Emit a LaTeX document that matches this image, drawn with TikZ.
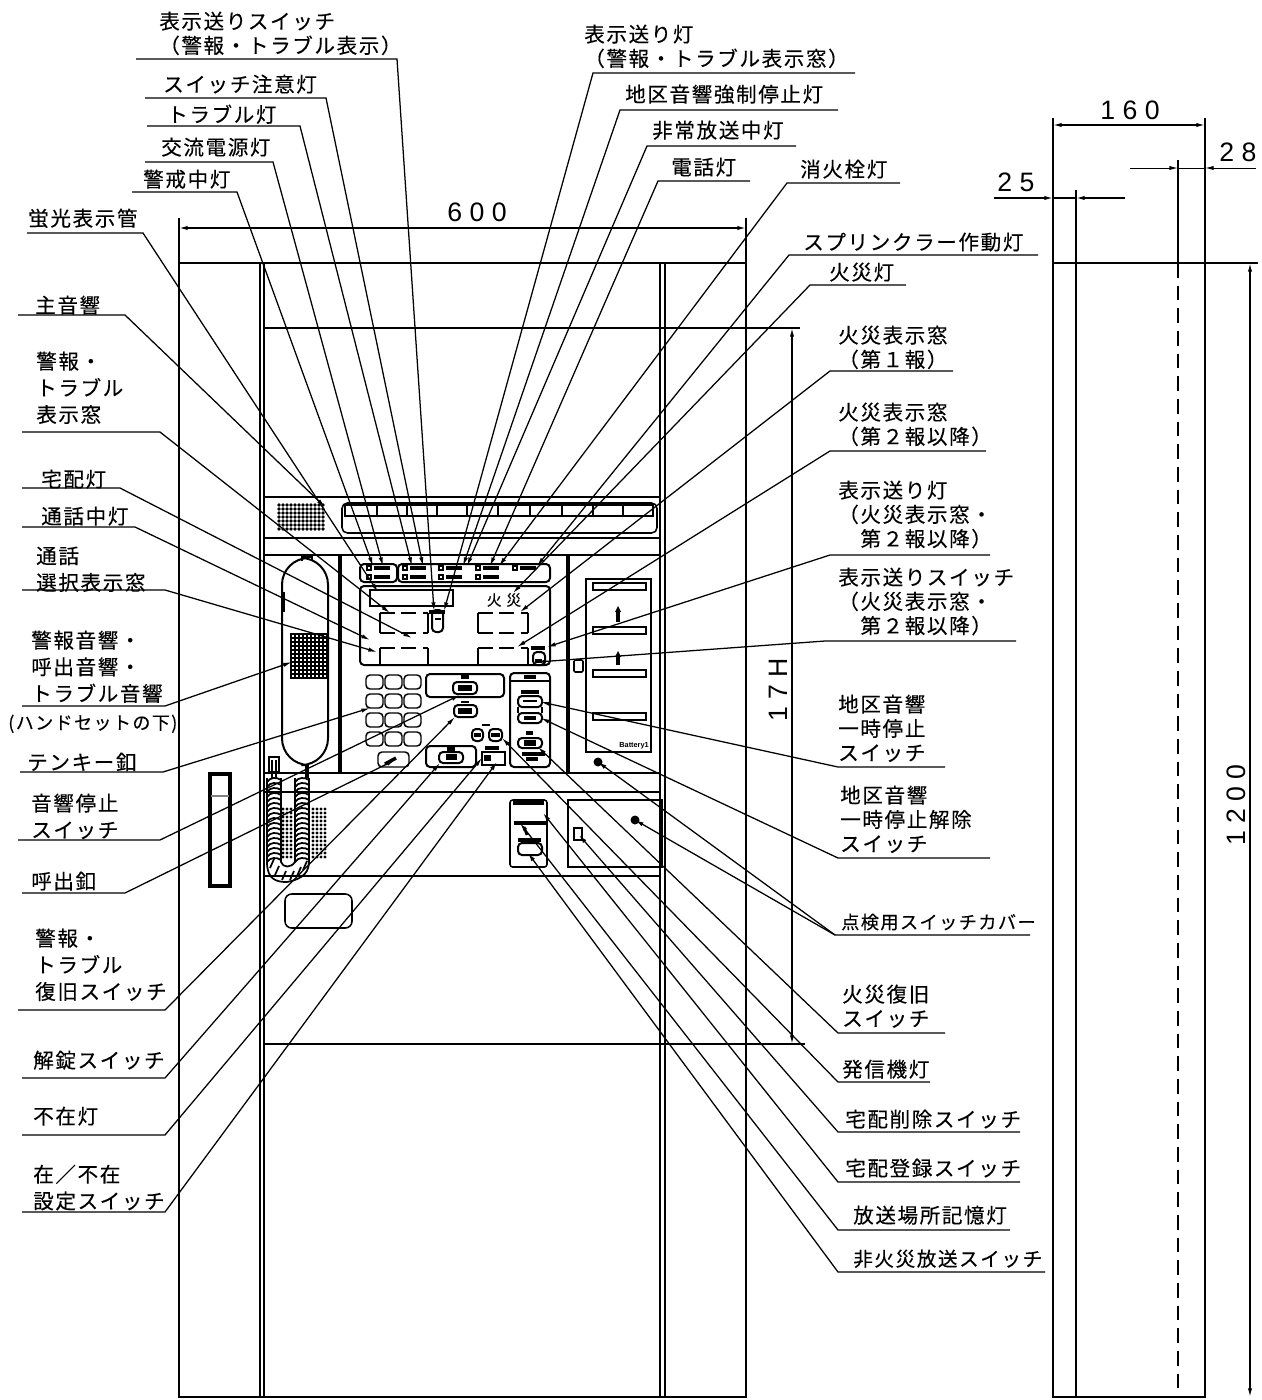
\documentclass[tikz,border=0pt]{standalone}
\usepackage{fontspec}
\usepackage{amsmath}
\setmainfont{Noto Sans CJK JP}
\newfontfamily\jpfont[LetterSpace=8,FakeBold=0.25]{Noto Sans CJK JP}
\newfontfamily\numfont[LetterSpace=28]{Liberation Sans}
\newfontfamily\tinyfont{Liberation Sans}
\usetikzlibrary{arrows.meta}
\tikzset{
  lbl/.style={anchor=north west,inner sep=0pt,align=left,yshift=-1.8pt,font=\jpfont\fontsize{15.4}{18.2}\selectfont},
  lbltall/.style={lbl,font=\jpfont\fontsize{15.4}{20}\selectfont},
  ldr/.style={line width=0.95pt,-{Latex[length=6.5pt,width=3.2pt]}},
  uline/.style={line width=1.1pt},
  cab/.style={line width=1.15pt},
  thinl/.style={line width=0.9pt},
  heavy/.style={line width=2.4pt},
  blob/.style={line width=2.6pt},
  dimn/.style={line width=1pt,{Latex[length=6.5pt,width=3.2pt]}-{Latex[length=6.5pt,width=3.2pt]}},
  dimo/.style={line width=1pt,-{Latex[length=6.5pt,width=3.2pt]}},
  num/.style={inner sep=0pt,font=\numfont\fontsize{20}{24}\selectfont},
  key/.style={line width=1.1pt,rounded corners=3},
  btn/.style={line width=1.5pt,rounded corners=3}
}
\begin{document}
\begin{tikzpicture}[x=0.75pt,y=0.75pt,yscale=-1,xscale=1]
  \useasboundingbox (0,0) rectangle (1261,1400);

  %Shape: Cabinet outline
  \draw [cab] (179,1397) -- (179,263) -- (746,263) -- (746,1397) -- cycle ;
  \draw [cab] (260,263) -- (260,1397) (264,263) -- (264,1397) ;
  \draw [cab] (660,263) -- (660,1397) (665,263) -- (665,1397) ;
  \draw [thinl] (264,497) -- (660,497) (264,538) -- (660,538) ;
  \draw [cab] (264,555) -- (660,555) ;
  \draw [cab] (264,773) -- (660,773) ;
  \draw [thinl] (264,792) -- (660,792) ;
  \draw [thinl] (264,876) -- (660,876) ;
  \draw [heavy] (340,555) -- (340,773) (568,555) -- (568,773) ;

  %Shape: Speaker
  \foreach \x in {279,283,...,325} \foreach \y in {505,509,...,531}
    \fill (\x,\y) circle [radius=1.8];
  %Shape: Display strip
  \draw [cab,rounded corners=4] (342,503) rectangle (657,533) ;
  \draw [line width=1.6pt] (345,505) rectangle (653,516) ;
  \foreach \x in {377,407,437,467,498,530,562,593,623}
    \draw [line width=1.6pt] (\x,505) -- (\x,516) ;

  %Shape: Handset
  \draw [line width=1.5pt,rounded corners=20] (282,558) rectangle (328,765) ;
  \draw [thinl] (302,561) -- (302,557) -- (312,557) -- (312,561) ;
  \draw [thinl] (284,592) -- (284,612) ;
  \foreach \y in {634,638,...,678} \draw [line width=1.3pt] (291,\y) -- (327,\y) ;
  \foreach \x in {291,295,...,327} \draw [line width=1.3pt] (\x,633) -- (\x,679) ;
  \draw [cab] (306,765) -- (306,778) (308,765) -- (308,778) ;
  \draw [line width=1.6pt] (269,757) rectangle (279,772) ;
  \draw [thinl] (272,760) -- (272,778) (276,760) -- (276,778) ;
  %Shape: Handset cord
  \foreach \y in {780,785,...,860} {
    \draw [line width=1.3pt] (267,\y+2) .. controls (270,\y-3) and (277,\y-3) .. (281,\y) ;
    \draw [line width=1.3pt] (295,\y+2) .. controls (298,\y-3) and (305,\y-3) .. (309,\y) ;
  }
  \draw [line width=1.3pt] (267,778) -- (267,862) .. controls (267,880) and (277,882) .. (287,882) .. controls (297,880) and (309,876) .. (309,862) -- (309,778) ;
  \draw [line width=1.3pt] (281,778) -- (281,862) .. controls (283,868) and (291,868) .. (295,862) -- (295,778) ;
  \foreach \a/\b in {270/868,275/875,282/880,290/880,297/876,303/870}
    \draw [line width=1.3pt] (\a,\b) -- (\a+4,\b-9) ;
  %Shape: Cord grilles
  \foreach \x in {283,287,291} \foreach \y in {809,813,...,857}
    \fill (\x,\y) circle [radius=1.7];
  \foreach \x in {313,317,321,325} \foreach \y in {809,813,...,857}
    \fill (\x,\y) circle [radius=1.7];

  %Shape: Left bar
  \draw [line width=2.6pt] (210,774) rectangle (230,886) ;
  \draw [line width=1.4pt,gray] (211,796) -- (229,796) ;
  %Shape: Pocket
  \draw [cab,rounded corners=5] (285,894) rectangle (352,928) ;

  %Shape: Light rows
  \draw [btn] (360,564) rectangle (397,582) ;
  \draw [btn] (398,564) rectangle (550,582) ;
  \foreach \x/\y in {367/568,367/577,403/568,403/577,439/568,439/577,476/568,476/577,513/568} {
    \draw [thinl] (\x,\y-2) rectangle (\x+4,\y+2) ;
    \draw [line width=2.8pt] (\x+7,\y) -- (\x+23,\y) ;
  }

  %Shape: Main display
  \draw [btn] (360,586) rectangle (550,665) ;
  \draw [cab] (370,590) rectangle (453,606) ;
  \draw [cab] (380,613) -- (380,633) (428,613) -- (428,633) (478,613) -- (478,633) (528,613) -- (528,633) ;
  \draw [cab] (380,648) -- (380,665) (428,648) -- (428,665) (478,648) -- (478,665) (528,648) -- (528,665) ;
  \draw [cab,dash pattern=on 11 off 5] (380,613) -- (428,613) ;
  \draw [cab,dash pattern=on 11 off 5] (380,633) -- (428,633) ;
  \draw [cab,dash pattern=on 11 off 5] (478,613) -- (528,613) ;
  \draw [cab,dash pattern=on 11 off 5] (478,633) -- (528,633) ;
  \draw [cab,dash pattern=on 11 off 5] (380,648) -- (428,648) ;
  \draw [cab,dash pattern=on 11 off 5] (478,648) -- (528,648) ;
  \node (tFire) [inner sep=0pt,font=\jpfont\fontsize{11}{13}\selectfont] at (504,600) {火\,\,災};
  \draw [btn] (432,610) rectangle (443,632) ;
  \draw [blob] (429,612) -- (445,612) ;
  \draw [thinl] (435,619) -- (441,619) ;
  \draw [btn] (533,652) rectangle (545,665) ;
  \draw [blob] (531,648) -- (545,648) ;
  \draw [blob] (535,661) -- (542,661) ;

  %Shape: Keypad
  \foreach \y/\h in {675/14,694/14,713/14,732/14}
    \foreach \x in {366,385,404}
      \draw [key] (\x,\y) rectangle (\x+17,\y+\h) ;
  \draw [key] (378,752) rectangle (409,767) ;
  \draw [blob] (385,764) -- (396,758) ;

  %Shape: Centre buttons
  \draw [btn] (426,674) rectangle (504,697) ;
  \draw [btn] (453,682) rectangle (477,694) ;
  \draw [blob] (461,677) -- (469,677) ;
  \draw [blob,line width=4.5pt] (458,688) -- (472,688) ;
  \draw [btn] (454,705) rectangle (477,717) ;
  \draw [thinl] (461,702) -- (469,702) ;
  \draw [blob,line width=4.5pt] (458,711) -- (472,711) ;
  \draw [btn] (426,746) rectangle (476,767) ;
  \draw [btn] (439,752) rectangle (463,763) ;
  \draw [blob,line width=4.5pt] (446,757) -- (457,757) ;
  \draw [blob] (447,749) -- (455,749) ;
  \draw [btn] (472,729) rectangle (483,741) ;
  \draw [btn] (489,729) rectangle (502,741) ;
  \draw [blob] (474,735) -- (481,735) (491,735) -- (500,735) ;
  \draw [thinl] (482,725) -- (490,725) ;
  \draw [thinl] (482,752) rectangle (505,765) ;
  \draw [blob,line width=4.5pt] (484,758) -- (491,758) ;
  \draw [blob] (485,748) -- (499,748) ;

  %Shape: Right control column
  \draw [btn] (510,673) rectangle (550,767) ;
  \draw [cab] (510,681) -- (550,681) ;
  \draw [blob] (524,677) -- (536,677) ;
  \draw [blob,line width=3.5pt] (521,692) -- (539,692) ;
  \draw [btn] (518,696) rectangle (542,707) ;
  \draw [blob,line width=2pt] (523,701) -- (537,701) ;
  \draw [btn] (518,713) rectangle (542,723) ;
  \draw [cab] (518,707) -- (518,713) (542,707) -- (542,713) ;
  \draw [blob] (524,718) -- (536,718) ;
  \draw [btn] (518,738) rectangle (542,748) ;
  \draw [blob,line width=4pt] (524,743) -- (536,743) ;
  \draw [blob] (526,733) -- (533,733) ;
  \draw [blob] (522,754) -- (545,754) ;
  \draw [blob] (526,759) -- (538,759) ;

  %Shape: Battery panel
  \draw [line width=1.8pt] (586,579) rectangle (651,752) ;
  \foreach \y in {583,627,670,713}
    \draw [cab] (593,\y) rectangle (646,\y+7) ;
  \draw [line width=2.4pt] (618,610) -- (618,622) (618,655) -- (618,665) ;
  \fill (618,606) -- (615,612) -- (621,612) -- cycle ;
  \fill (618,651) -- (615,657) -- (621,657) -- cycle ;
  \node (tBattery) [inner sep=0pt,anchor=east,font=\tinyfont\bfseries\fontsize{5.5}{6}\selectfont] at (649,746) {Battery1};
  \draw [cab,rounded corners=1] (574,660) rectangle (583,672) ;
  \fill (598,762) circle [radius=4.5];

  %Shape: Lower panels
  \draw [cab] (568,800) rectangle (662,867) ;
  \draw [cab] (574,828) rectangle (582,840) ;
  \fill (635,820) circle [radius=4.5];
  \draw [cab,rounded corners=2] (510,800) rectangle (547,867) ;
  \draw [blob,line width=3.5pt] (513,803) -- (544,803) ;
  \draw [blob,line width=2.4pt] (514,823) -- (546,823) ;
  \draw [blob,line width=2pt] (524,827) -- (527,835) ;
  \draw [blob,line width=3.5pt] (518,840) -- (541,840) ;
  \draw [btn] (518,843) rectangle (542,855) ;

  %Dimensions of the front view
  \coordinate (dA) at (179,228); \coordinate (dB) at (746,228);
  \draw [thinl] (179,218) -- (179,263) (746,218) -- (746,263) ;
  \draw [dimn] (dA) -- (dB) ;
  \node (t600) [num] at (477,212) {600};
  \draw [thinl] (264,328) -- (800,328) (264,1044) -- (805,1044) ;
  \coordinate (dC) at (792,328); \coordinate (dD) at (792,1044);
  \draw [dimn] (dC) -- (dD) ;
  \node (t17H) [num,rotate=90] at (778,690) {17H};

  %Shape: Side view
  \draw [cab] (1053,118) -- (1053,1397) -- (1205,1397) -- (1205,118) ;
  \draw [thinl] (1076,190) -- (1076,1397) ;
  \draw [thinl] (1178,160) -- (1178,263) ;
  \draw [thinl,dashed,dash pattern=on 11 off 6] (1178,263) -- (1178,1397) ;
  \draw [cab] (1053,263) -- (1258,263) ;
  \coordinate (dE) at (1053,125); \coordinate (dF) at (1205,125);
  \draw [dimn] (dE) -- (dF) ;
  \node (t160) [num] at (1130,110) {160};
  \coordinate (dG) at (1130,168); \coordinate (dH) at (1178,168);
  \coordinate (dI) at (1256,168); \coordinate (dJ) at (1205,168);
  \draw [dimo,line width=0.75pt] (dG) -- (dH) ;
  \draw [dimo,line width=0.75pt] (dI) -- (dJ) ;
  \draw [line width=0.75pt] (dH) -- (dJ) ;
  \node (t28) [num] at (1238,152) {28};
  \coordinate (dK) at (994,198); \coordinate (dL) at (1053,198);
  \coordinate (dM) at (1125,198); \coordinate (dN) at (1076,198);
  \draw [dimo] (dK) -- (dL) ;
  \draw [dimo] (dM) -- (dN) ;
  \draw [line width=1pt] (dL) -- (dN) ;
  \node (t25) [num] at (1016,182) {25};
  \coordinate (dO) at (1250,263); \coordinate (dP) at (1250,1397);
  \draw [dimn] (dO) -- (dP) ;
  \node (t1200) [num,rotate=90] at (1236,805) {1200};

  % Text Node
  \node (tSwAlarm) [lbl] at (159,9) {表示送りスイッチ\\（警報・トラブル表示）};
  \coordinate (uSwAlarmA) at (136,59); \coordinate (uSwAlarmB) at (397,59); \coordinate (pSwAlarm) at (434,611);
  \draw [ldr] (uSwAlarmA) -- (uSwAlarmB) -- (pSwAlarm) ;
  % Text Node
  \node (tCaution) [lbl] at (163,72) {スイッチ注意灯};
  \coordinate (uCautionA) at (145,98); \coordinate (uCautionB) at (326,98); \coordinate (pCaution) at (423,566);
  \draw [ldr] (uCautionA) -- (uCautionB) -- (pCaution) ;
  % Text Node
  \node (tTrouble) [lbl] at (167,102) {トラブル灯};
  \coordinate (uTroubleA) at (147,126); \coordinate (uTroubleB) at (300,126); \coordinate (pTrouble) at (412,566);
  \draw [ldr] (uTroubleA) -- (uTroubleB) -- (pTrouble) ;
  % Text Node
  \node (tPower) [lbl] at (161,135) {交流電源灯};
  \coordinate (uPowerA) at (145,162); \coordinate (uPowerB) at (273,162); \coordinate (pPower) at (383,566);
  \draw [ldr] (uPowerA) -- (uPowerB) -- (pPower) ;
  % Text Node
  \node (tGuard) [lbl] at (143,167) {警戒中灯};
  \coordinate (uGuardA) at (132,192); \coordinate (uGuardB) at (237,192); \coordinate (pGuard) at (373,566);
  \draw [ldr] (uGuardA) -- (uGuardB) -- (pGuard) ;
  % Text Node
  \node (tTube) [lbl] at (28,206) {蛍光表示管};
  \coordinate (uTubeA) at (27,233); \coordinate (uTubeB) at (143,233); \coordinate (pTube) at (378,592);
  \draw [ldr] (uTubeA) -- (uTubeB) -- (pTube) ;
  % Text Node
  \node (tHorn) [lbl] at (35,293) {主音響};
  \coordinate (uHornA) at (18,315); \coordinate (uHornB) at (125,315); \coordinate (pHorn) at (325,507);
  \draw [ldr] (uHornA) -- (uHornB) -- (pHorn) ;
  % Text Node
  \node (tAlarmWin) [lbltall] at (36,349) {警報・\\トラブル\\表示窓};
  \coordinate (uAlarmWinA) at (22,432); \coordinate (uAlarmWinB) at (160,432); \coordinate (pAlarmWin) at (390,613);
  \draw [ldr] (uAlarmWinA) -- (uAlarmWinB) -- (pAlarmWin) ;
  % Text Node
  \node (tParcel) [lbl] at (41,467) {宅配灯};
  \coordinate (uParcelA) at (22,488); \coordinate (uParcelB) at (120,488); \coordinate (pParcel) at (412,638);
  \draw [ldr] (uParcelA) -- (uParcelB) -- (pParcel) ;
  % Text Node
  \node (tTalk) [lbl] at (41,504) {通話中灯};
  \coordinate (uTalkA) at (22,527); \coordinate (uTalkB) at (135,527); \coordinate (pTalk) at (370,640);
  \draw [ldr] (uTalkA) -- (uTalkB) -- (pTalk) ;
  % Text Node
  \node (tSelect) [lbltall] at (36,544) {通話\\選択表示窓};
  \coordinate (uSelectA) at (22,590); \coordinate (uSelectB) at (165,590); \coordinate (pSelect) at (377,652);
  \draw [ldr] (uSelectA) -- (uSelectB) -- (pSelect) ;
  % Text Node
  \node (tSound) [lbltall] at (31,628) {警報音響・\\呼出音響・\\トラブル音響};
  \node (tUnder) [lbl,font=\jpfont\fontsize{13.5}{16}\selectfont] at (8,712) {(ハンドセットの下)};
  \coordinate (uSoundA) at (22,706); \coordinate (uSoundB) at (165,706); \coordinate (pSound) at (292,662);
  \draw [ldr] (uSoundA) -- (uSoundB) -- (pSound) ;
  % Text Node
  \node (tTenkey) [lbl] at (27,750) {テンキー釦};
  \coordinate (uTenkeyA) at (20,772); \coordinate (uTenkeyB) at (163,772); \coordinate (pTenkey) at (370,708);
  \draw [ldr] (uTenkeyA) -- (uTenkeyB) -- (pTenkey) ;
  % Text Node
  \node (tStop) [lbltall] at (31,791) {音響停止\\スイッチ};
  \coordinate (uStopA) at (18,840); \coordinate (uStopB) at (160,840); \coordinate (pStop) at (460,695);
  \draw [ldr] (uStopA) -- (uStopB) -- (pStop) ;
  % Text Node
  \node (tCall) [lbl] at (31,869) {呼出釦};
  \coordinate (uCallA) at (22,893); \coordinate (uCallB) at (125,893); \coordinate (pCall) at (395,760);
  \draw [ldr] (uCallA) -- (uCallB) -- (pCall) ;
  % Text Node
  \node (tReset) [lbltall] at (35,926) {警報・\\トラブル\\復旧スイッチ};
  \coordinate (uResetA) at (18,1010); \coordinate (uResetB) at (165,1010); \coordinate (pReset) at (455,717);
  \draw [ldr] (uResetA) -- (uResetB) -- (pReset) ;
  % Text Node
  \node (tUnlock) [lbl] at (33,1048) {解錠スイッチ};
  \coordinate (uUnlockA) at (22,1078); \coordinate (uUnlockB) at (165,1078); \coordinate (pUnlock) at (440,763);
  \draw [ldr] (uUnlockA) -- (uUnlockB) -- (pUnlock) ;
  % Text Node
  \node (tAbsent) [lbl] at (33,1104) {不在灯};
  \coordinate (uAbsentA) at (22,1135); \coordinate (uAbsentB) at (165,1135); \coordinate (pAbsent) at (482,758);
  \draw [ldr] (uAbsentA) -- (uAbsentB) -- (pAbsent) ;
  % Text Node
  \node (tSetting) [lbltall] at (33,1162) {在／不在\\設定スイッチ};
  \coordinate (uSettingA) at (22,1212); \coordinate (uSettingB) at (165,1212); \coordinate (pSetting) at (497,762);
  \draw [ldr] (uSettingA) -- (uSettingB) -- (pSetting) ;

  % Text Node
  \node (tNext) [lbl] at (584,22) {表示送り灯\\（警報・トラブル表示窓）};
  \coordinate (uNextA) at (855,73); \coordinate (uNextB) at (593,73); \coordinate (pNext) at (444,611);
  \draw [ldr] (uNextA) -- (uNextB) -- (pNext) ;
  % Text Node
  \node (tForced) [lbl] at (625,82) {地区音響強制停止灯};
  \coordinate (uForcedA) at (838,110); \coordinate (uForcedB) at (620,110); \coordinate (pForced) at (463,566);
  \draw [ldr] (uForcedA) -- (uForcedB) -- (pForced) ;
  % Text Node
  \node (tBroadcast) [lbl] at (652,118) {非常放送中灯};
  \coordinate (uBroadcastA) at (796,146); \coordinate (uBroadcastB) at (647,146); \coordinate (pBroadcast) at (467,566);
  \draw [ldr] (uBroadcastA) -- (uBroadcastB) -- (pBroadcast) ;
  % Text Node
  \node (tPhone) [lbl] at (671,155) {電話灯};
  \coordinate (uPhoneA) at (750,181); \coordinate (uPhoneB) at (658,181); \coordinate (pPhone) at (490,566);
  \draw [ldr] (uPhoneA) -- (uPhoneB) -- (pPhone) ;
  % Text Node
  \node (tHydrant) [lbl] at (800,157) {消火栓灯};
  \coordinate (uHydrantA) at (900,183); \coordinate (uHydrantB) at (787,183); \coordinate (pHydrant) at (499,566);
  \draw [ldr] (uHydrantA) -- (uHydrantB) -- (pHydrant) ;
  % Text Node
  \node (tSprinkler) [lbl] at (803,230) {スプリンクラー作動灯};
  \coordinate (uSprinklerA) at (1038,255); \coordinate (uSprinklerB) at (789,255); \coordinate (pSprinkler) at (537,566);
  \draw [ldr] (uSprinklerA) -- (uSprinklerB) -- (pSprinkler) ;
  % Text Node
  \node (tFireLamp) [lbl] at (829,260) {火災灯};
  \coordinate (uFireLampA) at (906,285); \coordinate (uFireLampB) at (810,285); \coordinate (pFireLamp) at (513,593);
  \draw [ldr] (uFireLampA) -- (uFireLampB) -- (pFireLamp) ;
  % Text Node
  \node (tFirst) [lbl] at (838,323) {火災表示窓\\（第１報）};
  \coordinate (uFirstA) at (953,371); \coordinate (uFirstB) at (830,371); \coordinate (pFirst) at (520,612);
  \draw [ldr] (uFirstA) -- (uFirstB) -- (pFirst) ;
  % Text Node
  \node (tSecond) [lbl] at (838,400) {火災表示窓\\（第２報以降）};
  \coordinate (uSecondA) at (986,451); \coordinate (uSecondB) at (830,451); \coordinate (pSecond) at (517,647);
  \draw [ldr] (uSecondA) -- (uSecondB) -- (pSecond) ;
  % Text Node
  \node (tNextFire) [lbl] at (838,478) {表示送り灯\\（火災表示窓・\\　第２報以降）};
  \coordinate (uNextFireA) at (990,555); \coordinate (uNextFireB) at (830,555); \coordinate (pNextFire) at (547,647);
  \draw [ldr] (uNextFireA) -- (uNextFireB) -- (pNextFire) ;
  % Text Node
  \node (tSwFire) [lbl] at (838,565) {表示送りスイッチ\\（火災表示窓・\\　第２報以降）};
  \coordinate (uSwFireA) at (1016,641); \coordinate (uSwFireB) at (825,641); \coordinate (pSwFire) at (537,662);
  \draw [ldr] (uSwFireA) -- (uSwFireB) -- (pSwFire) ;
  % Text Node
  \node (tPause) [lbl] at (838,692) {地区音響\\一時停止\\スイッチ};
  \coordinate (uPauseA) at (945,767); \coordinate (uPauseB) at (838,767); \coordinate (pPause) at (541,702);
  \draw [ldr] (uPauseA) -- (uPauseB) -- (pPause) ;
  % Text Node
  \node (tRelease) [lbl] at (840,783) {地区音響\\一時停止解除\\スイッチ};
  \coordinate (uReleaseA) at (990,858); \coordinate (uReleaseB) at (838,858); \coordinate (pRelease) at (541,718);
  \draw [ldr] (uReleaseA) -- (uReleaseB) -- (pRelease) ;
  % Text Node
  \node (tCover) [lbl,font=\jpfont\fontsize{13.6}{17}\selectfont] at (841,911) {点検用スイッチカバー};
  \coordinate (uCoverA) at (1030,935); \coordinate (uCoverB) at (835,935); \coordinate (pCoverA) at (598,762); \coordinate (pCoverB) at (635,820);
  \draw [ldr] (uCoverA) -- (uCoverB) -- (pCoverA) ;
  \draw [ldr] (uCoverB) -- (pCoverB) ;
  % Text Node
  \node (tRestore) [lbl] at (842,982) {火災復旧\\スイッチ};
  \coordinate (uRestoreA) at (945,1033); \coordinate (uRestoreB) at (838,1033); \coordinate (pRestore) at (538,747);
  \draw [ldr] (uRestoreA) -- (uRestoreB) -- (pRestore) ;
  % Text Node
  \node (tSender) [lbl] at (842,1057) {発信機灯};
  \coordinate (uSenderA) at (930,1082); \coordinate (uSenderB) at (838,1082); \coordinate (pSender) at (502,738);
  \draw [ldr] (uSenderA) -- (uSenderB) -- (pSender) ;
  % Text Node
  \node (tDelete) [lbl] at (845,1107) {宅配削除スイッチ};
  \coordinate (uDeleteA) at (1020,1132); \coordinate (uDeleteB) at (838,1132); \coordinate (pDelete) at (579,835);
  \draw [ldr] (uDeleteA) -- (uDeleteB) -- (pDelete) ;
  % Text Node
  \node (tRegister) [lbl] at (845,1156) {宅配登録スイッチ};
  \coordinate (uRegisterA) at (1020,1182); \coordinate (uRegisterB) at (838,1182); \coordinate (pRegister) at (543,813);
  \draw [ldr] (uRegisterA) -- (uRegisterB) -- (pRegister) ;
  % Text Node
  \node (tMemory) [lbl] at (853,1203) {放送場所記憶灯};
  \coordinate (uMemoryA) at (1010,1230); \coordinate (uMemoryB) at (838,1230); \coordinate (pMemory) at (520,823);
  \draw [ldr] (uMemoryA) -- (uMemoryB) -- (pMemory) ;
  % Text Node
  \node (tNonFire) [lbl,font=\jpfont\fontsize{14.7}{18}\selectfont] at (853,1247) {非火災放送スイッチ};
  \coordinate (uNonFireA) at (1045,1272); \coordinate (uNonFireB) at (838,1272); \coordinate (pNonFire) at (528,853);
  \draw [ldr] (uNonFireA) -- (uNonFireB) -- (pNonFire) ;
\end{tikzpicture}
\end{document}
